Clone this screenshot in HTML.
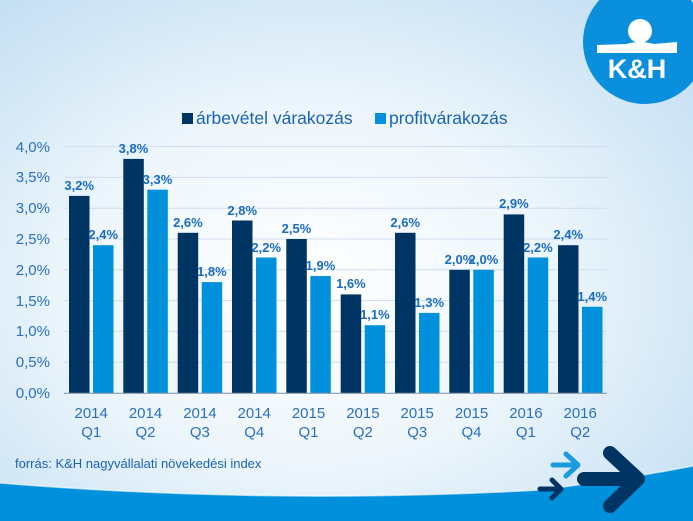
<!DOCTYPE html>
<html><head><meta charset="utf-8"><style>
html,body{margin:0;padding:0;width:693px;height:521px;overflow:hidden}
svg{display:block}
text{font-family:"Liberation Sans",Arial,sans-serif}
</style></head><body>
<svg width="693" height="521" viewBox="0 0 693 521" xmlns="http://www.w3.org/2000/svg">
<defs>
<radialGradient id="bg" cx="0.45" cy="0.55" r="0.75">
<stop offset="0" stop-color="#ffffff"/>
<stop offset="0.45" stop-color="#edf6fc"/>
<stop offset="1" stop-color="#bfdcf2"/>
</radialGradient>
</defs>
<rect width="693" height="521" fill="url(#bg)"/>
<path d="M0,483 Q270,505 540,490 Q620,480 693,466 L693,521 L0,521 Z" fill="#0090dc"/>
<path d="M0,483 Q270,505 540,490 Q620,480 693,466" fill="none" stroke="#ffffff" stroke-opacity="0.6" stroke-width="1.5"/>
<circle cx="645" cy="42" r="62" fill="#0a8fdc"/>
<circle cx="640" cy="31" r="12" fill="#fff"/>
<path d="M597,45 L626,44 Q640,40 654,44 L677,42 L677,53 L597,53 Z" fill="#fff"/>
<text x="637" y="78" text-anchor="middle" font-size="27" font-weight="bold" fill="#fff">K&amp;H</text>
<rect x="182" y="113" width="11" height="11" fill="#003462"/>
<text x="196" y="124" font-size="17.5" fill="#1a62b6">árbevétel várakozás</text>
<rect x="375" y="113" width="11" height="11" fill="#0090dc"/>
<text x="389" y="124" font-size="17.5" fill="#1a62b6">profitvárakozás</text>
<g stroke="#cfdcef" stroke-width="1">
<line x1="64" x2="607" y1="362.2" y2="362.2"/><line x1="64" x2="607" y1="331.4" y2="331.4"/>
<line x1="64" x2="607" y1="300.6" y2="300.6"/><line x1="64" x2="607" y1="269.8" y2="269.8"/>
<line x1="64" x2="607" y1="239" y2="239"/><line x1="64" x2="607" y1="208.2" y2="208.2"/>
<line x1="64" x2="607" y1="177.4" y2="177.4"/><line x1="64" x2="607" y1="146.6" y2="146.6"/>
</g>
<g font-size="15" fill="#2a6fc0" text-anchor="end">
<text x="50" y="398">0,0%</text><text x="50" y="367">0,5%</text><text x="50" y="336">1,0%</text>
<text x="50" y="306">1,5%</text><text x="50" y="275">2,0%</text><text x="50" y="244">2,5%</text>
<text x="50" y="213">3,0%</text><text x="50" y="182">3,5%</text><text x="50" y="152">4,0%</text>
</g>
<g fill="#003462">
<rect x="69" y="195.9" width="20.5" height="197.1"/>
<rect x="123.3" y="158.9" width="20.5" height="234.1"/>
<rect x="177.7" y="232.8" width="20.5" height="160.2"/>
<rect x="232" y="220.5" width="20.5" height="172.5"/>
<rect x="286.3" y="239" width="20.5" height="154"/>
<rect x="340.7" y="294.4" width="20.5" height="98.6"/>
<rect x="395" y="232.8" width="20.5" height="160.2"/>
<rect x="449.3" y="269.8" width="20.5" height="123.2"/>
<rect x="503.7" y="214.4" width="20.5" height="178.6"/>
<rect x="558" y="245.2" width="20.5" height="147.8"/>
</g>
<g fill="#0090dc">
<rect x="93" y="245.2" width="20.5" height="147.8"/>
<rect x="147.3" y="189.7" width="20.5" height="203.3"/>
<rect x="201.7" y="282.1" width="20.5" height="110.9"/>
<rect x="256" y="257.5" width="20.5" height="135.5"/>
<rect x="310.3" y="276" width="20.5" height="117"/>
<rect x="364.7" y="325.2" width="20.5" height="67.8"/>
<rect x="419" y="312.9" width="20.5" height="80.1"/>
<rect x="473.3" y="269.8" width="20.5" height="123.2"/>
<rect x="527.7" y="257.5" width="20.5" height="135.5"/>
<rect x="582" y="306.8" width="20.5" height="86.2"/>
</g>
<line x1="64" x2="607" y1="393.3" y2="393.3" stroke="#8c9aa8" stroke-width="1.2"/>
<g font-size="13" font-weight="bold" fill="#1a6cc4" text-anchor="middle">
<text x="79.2" y="190">3,2%</text><text x="133.5" y="153">3,8%</text><text x="187.9" y="227">2,6%</text>
<text x="242.2" y="215">2,8%</text><text x="296.5" y="233">2,5%</text><text x="350.9" y="288">1,6%</text>
<text x="405.2" y="227">2,6%</text><text x="459.5" y="264">2,0%</text><text x="513.9" y="208">2,9%</text>
<text x="568.2" y="239">2,4%</text>
<text x="103.2" y="239">2,4%</text><text x="157.5" y="184">3,3%</text><text x="211.9" y="276">1,8%</text>
<text x="266.2" y="252">2,2%</text><text x="320.5" y="270">1,9%</text><text x="374.9" y="319">1,1%</text>
<text x="429.2" y="307">1,3%</text><text x="483.5" y="264">2,0%</text><text x="537.9" y="252">2,2%</text>
<text x="592.2" y="301">1,4%</text>
</g>
<g font-size="15" fill="#2a6fc0" text-anchor="middle">
<text x="91.2" y="418">2014</text><text x="91.2" y="437">Q1</text>
<text x="145.5" y="418">2014</text><text x="145.5" y="437">Q2</text>
<text x="199.9" y="418">2014</text><text x="199.9" y="437">Q3</text>
<text x="254.2" y="418">2014</text><text x="254.2" y="437">Q4</text>
<text x="308.5" y="418">2015</text><text x="308.5" y="437">Q1</text>
<text x="362.9" y="418">2015</text><text x="362.9" y="437">Q2</text>
<text x="417.2" y="418">2015</text><text x="417.2" y="437">Q3</text>
<text x="471.5" y="418">2015</text><text x="471.5" y="437">Q4</text>
<text x="525.9" y="418">2016</text><text x="525.9" y="437">Q1</text>
<text x="580.2" y="418">2016</text><text x="580.2" y="437">Q2</text>
</g>
<text x="15" y="468" font-size="13" fill="#1a62b6">forrás: K&amp;H nagyvállalati növekedési index</text>
<g fill="none" stroke-linecap="round" stroke-linejoin="round">
<path d="M553,465 L577,465 M566,454 L578,465 L566,476" stroke="#1a9be0" stroke-width="5"/>
<path d="M540,489 L560,489 M552,480 L561,489 L552,498" stroke="#003462" stroke-width="5"/>
<path d="M584,479 L637,479 M610,453 L638,479 L610,506" stroke="#003462" stroke-width="14"/>
</g>
</svg>
</body></html>
